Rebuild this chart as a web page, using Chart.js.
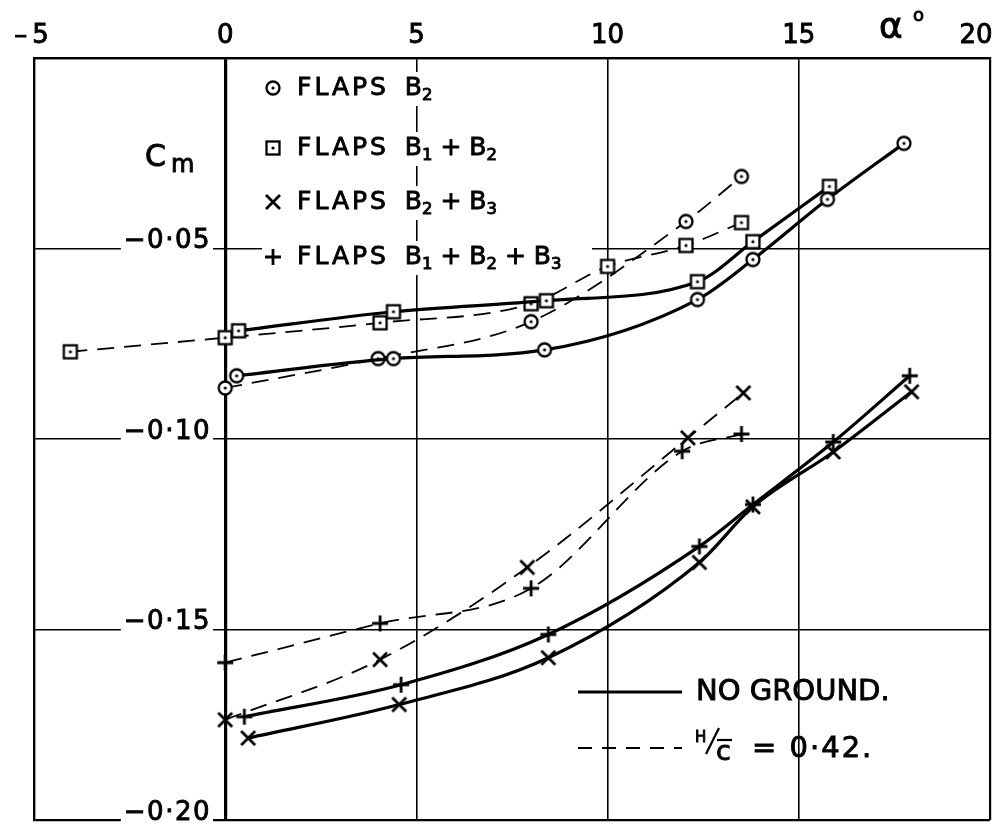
<!DOCTYPE html>
<html>
<head>
<meta charset="utf-8">
<title>Cm vs alpha</title>
<script src="https://cdn.jsdelivr.net/npm/chart.js@4"></script>
<style>
html, body { margin: 0; padding: 0; background: #fff; }
</style>
</head>
<body>
<canvas id="cmChart" width="1002" height="825"></canvas>
<script>
// axis ticks
const xTickValues = [-5, 0, 5, 10, 15, 20];
const xTickLabels = ['–5', '0', '5', '10', '15', '20'];
const yTickValues = [-0.05, -0.10, -0.15, -0.20];
const yTickLabels = ['−0·05', '−0·10', '−0·15', '−0·20'];

// flaps B2 (circles)
const b2SolidA = [0.3, 4.4, 8.35, 12.35, 13.8, 15.75, 17.75];
const b2SolidCm = [-0.0834, -0.0789, -0.0766, -0.0634, -0.0529, -0.0371, -0.0224];
const b2DashA = [0, 4.0, 8.0, 12.05, 13.5];
const b2DashCm = [-0.0866, -0.0789, -0.0692, -0.0429, -0.0311];

// flaps B1 + B2 (squares)
const b12SolidA = [0.35, 4.4, 8.4, 12.35, 13.8, 15.8];
const b12SolidCm = [-0.0716, -0.0666, -0.0637, -0.0587, -0.0482, -0.0337];
const b12DashA = [-4.05, 0, 4.05, 8.0, 10.0, 12.05, 13.5];
const b12DashCm = [-0.0771, -0.0734, -0.0695, -0.0645, -0.0547, -0.0492, -0.0432];

// flaps B2 + B3 (crosses)
const b23SolidA = [0.6, 4.55, 8.45, 12.4, 13.8, 15.9, 17.95];
const b23SolidCm = [-0.1785, -0.1697, -0.1574, -0.1324, -0.1178, -0.1034, -0.0876];
const b23DashA = [0, 4.05, 7.9, 12.1, 13.55];
const b23DashCm = [-0.1737, -0.1579, -0.1337, -0.0997, -0.0879];

// flaps B1 + B2 + B3 (plus)
const b123SolidA = [0.5, 4.6, 8.45, 12.4, 13.8, 15.9, 17.9];
const b123SolidCm = [-0.1729, -0.1645, -0.1513, -0.1282, -0.1172, -0.1008, -0.0834];
const b123DashA = [0, 4.05, 8.0, 11.95, 13.5];
const b123DashCm = [-0.1587, -0.1484, -0.1392, -0.1032, -0.0987];

// legend text: [text, kind]  kind: 'wide' | '' | 'sub'
const legendRows = [
    [['FLAPS', 'wide'], ['  B', ''], ['2', 'sub']],
    [['FLAPS', 'wide'], ['  B', ''], ['1', 'sub'], [' + B', ''], ['2', 'sub']],
    [['FLAPS', 'wide'], ['  B', ''], ['2', 'sub'], [' + B', ''], ['3', 'sub']],
    [['FLAPS', 'wide'], ['  B', ''], ['1', 'sub'], [' + B', ''], ['2', 'sub'], [' + B', ''], ['3', 'sub']]
];
const legendMarkers = ['circle', 'square', 'cross', 'plus'];

const FONT = '"DejaVu Sans", sans-serif';

function makeMarker(kind) {
    const c = document.createElement('canvas');
    c.width = c.height = 20;
    const g = c.getContext('2d');
    g.strokeStyle = '#000';
    g.fillStyle = '#fff';
    g.lineWidth = 2.3;
    if (kind === 'circle') {
        g.beginPath(); g.arc(10, 10, 6.5, 0, Math.PI * 2); g.fill(); g.stroke();
        g.fillStyle = '#000'; g.beginPath(); g.arc(10, 10, 1.6, 0, Math.PI * 2); g.fill();
    } else if (kind === 'square') {
        g.fillRect(3.5, 3.5, 13, 13); g.strokeRect(3.5, 3.5, 13, 13);
        g.fillStyle = '#000'; g.beginPath(); g.arc(10, 10, 1.6, 0, Math.PI * 2); g.fill();
    } else if (kind === 'cross') {
        g.lineWidth = 2.8;
        g.beginPath(); g.moveTo(3, 3); g.lineTo(17, 17); g.moveTo(17, 3); g.lineTo(3, 17); g.stroke();
    } else {
        g.lineWidth = 2.8;
        g.beginPath(); g.moveTo(10, 2); g.lineTo(10, 18); g.moveTo(2, 10); g.lineTo(18, 10); g.stroke();
    }
    return c;
}
const markers = {};
legendMarkers.forEach(k => markers[k] = makeMarker(k));

function series(xs, ys, marker, dashed) {
    return {
        data: xs.map((x, i) => ({ x, y: ys[i] })),
        showLine: true,
        borderColor: '#000',
        borderWidth: dashed ? 1.8 : 3.2,
        borderDash: dashed ? [17, 10] : [],
        cubicInterpolationMode: 'monotone',
        pointStyle: markers[marker],
        pointRadius: 10,
        pointHoverRadius: 10
    };
}

// filled + thin stroke, to get the heavier pen look of the lettering
function ink(ctx, t, x, y) {
    ctx.fillText(t, x, y);
    ctx.strokeText(t, x, y);
}

function drawParts(ctx, parts, x, y, size) {
    let cx = x;
    parts.forEach(([t, kind]) => {
        const s = kind === 'sub' ? size * 0.66 : size;
        const dy = kind === 'sub' ? size * 0.3 : 0;
        ctx.font = `${s}px ${FONT}`;
        ctx.letterSpacing = kind === 'wide' ? '3px' : '0px';
        ink(ctx, t, cx, y + dy);
        cx += ctx.measureText(t).width;
    });
    ctx.letterSpacing = '0px';
    return cx;
}

const textPlugin = {
    id: 'texts',
    beforeDatasetsDraw(chart) {
        const ctx = chart.ctx;
        const xs = chart.scales.x, ys = chart.scales.y;
        ctx.save();
        ctx.textBaseline = 'middle';
        ctx.fillStyle = '#000';
        ctx.strokeStyle = '#000';
        ctx.lineWidth = 0.9;

        // x tick labels above the frame
        ctx.textAlign = 'center';
        ctx.font = `26px ${FONT}`;
        xTickValues.forEach((v, i) => {
            let px = xs.getPixelForValue(v);
            if (i === xTickValues.length - 1) px -= 14;
            ctx.letterSpacing = i === 0 ? '5px' : '0px';
            ink(ctx, xTickLabels[i], px, 36);
        });
        ctx.letterSpacing = '0px';

        // alpha label
        ctx.textAlign = 'left';
        ctx.font = `36px ${FONT}`;
        ink(ctx, 'α', 879, 29);
        ctx.font = `18px ${FONT}`;
        ink(ctx, 'o', 913, 16);

        // y tick labels inside the plot, left of the zero axis
        ctx.textAlign = 'right';
        ctx.font = `26px ${FONT}`;
        ctx.letterSpacing = '1.5px';
        yTickValues.forEach((v, i) => {
            const py = ys.getPixelForValue(v) - 7;
            const w = ctx.measureText(yTickLabels[i]).width;
            ctx.fillStyle = '#fff';
            ctx.fillRect(211 - w - 3, py - 13, w + 5, 24);
            ctx.fillStyle = '#000';
            ink(ctx, yTickLabels[i], 211, py);
        });
        ctx.letterSpacing = '0px';

        // Cm label
        ctx.textAlign = 'left';
        ctx.font = `30px ${FONT}`;
        ink(ctx, 'C', 145, 158);
        ctx.font = `24px ${FONT}`;
        ink(ctx, 'm', 171, 166);

        // flap legend
        const rowY = [88, 148, 202, 257];
        legendRows.forEach((row, i) => {
            ctx.fillStyle = '#fff';
            ctx.fillRect(262, rowY[i] - 16, 330, 34);
            ctx.fillStyle = '#000';
            ctx.drawImage(markers[legendMarkers[i]], 263, rowY[i] - 10);
            drawParts(ctx, row, 297, rowY[i], 25);
        });

        // line-style legend
        ctx.lineWidth = 3.2;
        ctx.beginPath(); ctx.moveTo(578, 692); ctx.lineTo(682, 692); ctx.stroke();
        ctx.lineWidth = 1.8;
        ctx.setLineDash([14, 10]);
        ctx.beginPath(); ctx.moveTo(578, 748); ctx.lineTo(682, 748); ctx.stroke();
        ctx.setLineDash([]);
        ctx.lineWidth = 0.9;
        ctx.font = `29px ${FONT}`;
        ink(ctx, 'NO GROUND.', 696, 692);
        ctx.font = `15px ${FONT}`;
        ink(ctx, 'H', 695, 738);
        ctx.lineWidth = 2.2;
        ctx.beginPath(); ctx.moveTo(719, 728); ctx.lineTo(706, 754); ctx.stroke();
        ctx.beginPath(); ctx.moveTo(717, 740); ctx.lineTo(732, 740); ctx.stroke();
        ctx.lineWidth = 0.9;
        ctx.font = `27px ${FONT}`;
        ink(ctx, 'c', 716, 753);
        ctx.font = `29px ${FONT}`;
        ctx.letterSpacing = '2px';
        ink(ctx, '= 0·42.', 752, 749);
        ctx.letterSpacing = '0px';
        ctx.restore();
    }
};

const edge = v => v === -5 || v === 20 || Math.abs(v) < 1e-9 || Math.abs(v + 0.2) < 1e-9;

new Chart(document.getElementById('cmChart').getContext('2d'), {
    type: 'scatter',
    data: {
        datasets: [
            series(b2SolidA, b2SolidCm, 'circle', false),
            series(b2DashA, b2DashCm, 'circle', true),
            series(b12SolidA, b12SolidCm, 'square', false),
            series(b12DashA, b12DashCm, 'square', true),
            series(b23SolidA, b23SolidCm, 'cross', false),
            series(b23DashA, b23DashCm, 'cross', true),
            series(b123SolidA, b123SolidCm, 'plus', false),
            series(b123DashA, b123DashCm, 'plus', true)
        ]
    },
    options: {
        responsive: false,
        animation: false,
        events: [],
        layout: { padding: { left: 34, right: 12, top: 0, bottom: 5 }, autoPadding: false },
        plugins: { legend: { display: false }, tooltip: { enabled: false } },
        scales: {
            x: {
                type: 'linear',
                position: 'top',
                min: -5,
                max: 20,
                ticks: { display: false, stepSize: 5 },
                grid: {
                    drawTicks: false,
                    color: '#000',
                    lineWidth: c => c.tick.value === 0 ? 3.2 : (edge(c.tick.value) ? 2.2 : 1.6)
                },
                border: { display: true, color: '#000', width: 2.2 },
                afterFit: s => { s.height = 58; }
            },
            y: {
                type: 'linear',
                min: -0.2,
                max: 0,
                ticks: { display: false, stepSize: 0.05 },
                grid: {
                    drawTicks: false,
                    color: '#000',
                    lineWidth: c => edge(c.tick.value) ? 2.2 : 1.6
                },
                border: { display: true, color: '#000', width: 2.2 },
                afterFit: s => { s.width = 0; }
            }
        }
    },
    plugins: [textPlugin]
});
</script>
</body>
</html>
